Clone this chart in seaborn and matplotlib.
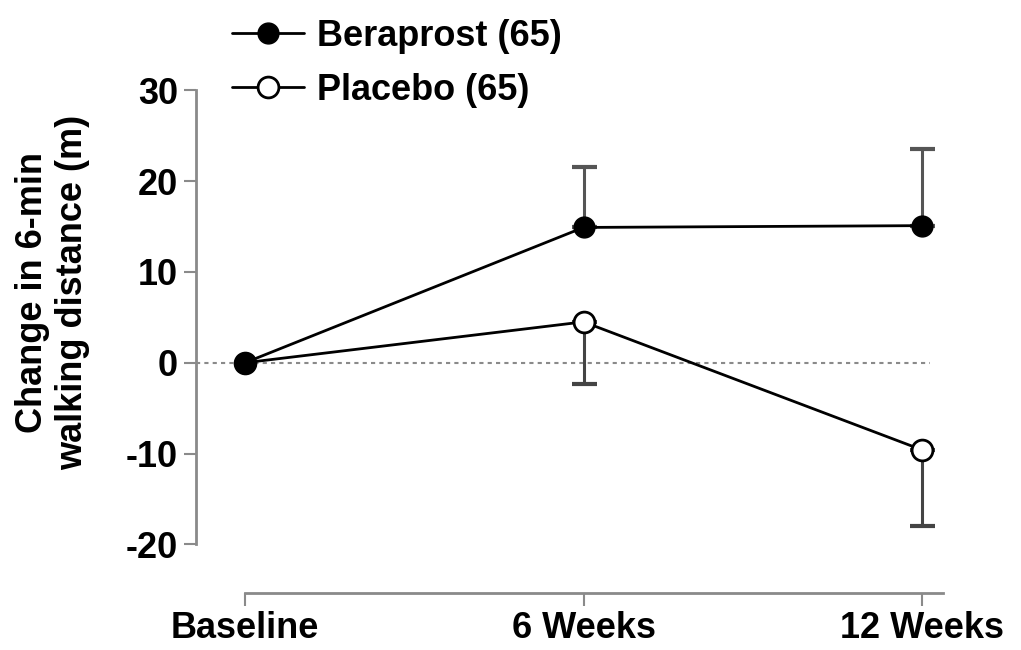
import numpy as np
import pandas as pd
import matplotlib
matplotlib.use("Agg")
import matplotlib.pyplot as plt
import seaborn as sns

timepoints = ["Baseline", "6 Weeks", "12 Weeks"]
beraprost = [0.0, 14.9, 15.1]
beraprost_err = [0.0, 6.7, 8.4]
placebo = [0.0, 4.5, -9.6]
placebo_err = [0.0, 6.8, 8.4]
yticks = [-20, -10, 0, 10, 20, 30]
labels = ["Beraprost (65)", "Placebo (65)"]
ylabel = "Change in 6-min\nwalking distance (m)"

sns.set_theme(style="ticks")
plt.rcParams["font.family"] = ["Liberation Sans", "DejaVu Sans"]
plt.rcParams["font.weight"] = "bold"
plt.rcParams["text.color"] = "black"
plt.rcParams["axes.labelcolor"] = "black"

W, H = 1021, 650
fig = plt.figure(figsize=(W / 100, H / 100), dpi=100)
x_left, x_right = 196, 943
y_top, y_bot = 85.8, 593
ax = fig.add_axes([x_left / W, 1 - y_bot / H, (x_right - x_left) / W, (y_bot - y_top) / H])

pos = np.arange(len(timepoints))
df_b = pd.DataFrame({"x": pos, "y": beraprost})
df_p = pd.DataFrame({"x": pos, "y": placebo})

grey = "#8a8a8a"
ax.axhline(0, xmin=0, xmax=(930 - x_left) / (x_right - x_left), color=grey,
           lw=1.5, ls=(0, (2, 2)), zorder=1)

# error bars (one-sided)
ax.errorbar(pos[1:], beraprost[1:], yerr=[np.zeros(2), beraprost_err[1:]],
            fmt="none", ecolor="#555555", elinewidth=2.2, capsize=9, capthick=3, zorder=2)
ax.errorbar(pos[1:], placebo[1:], yerr=[placebo_err[1:], np.zeros(2)],
            fmt="none", ecolor="#444444", elinewidth=2.2, capsize=9, capthick=3, zorder=2)

sns.lineplot(data=df_p, x="x", y="y", ax=ax, sort=False, color="black", lw=2,
             marker="o", markersize=15, markerfacecolor="white",
             markeredgecolor="black", markeredgewidth=2, label=labels[1], zorder=3)
sns.lineplot(data=df_b, x="x", y="y", ax=ax, sort=False, color="black", lw=2,
             marker="o", markersize=15, markerfacecolor="black",
             markeredgecolor="black", markeredgewidth=1, label=labels[0], zorder=4)

ax.set_xlim(-0.1448, 2.062)
ax.set_ylim(-25.36, 30.5)
ax.set_xticks(pos)
ax.set_xticklabels(timepoints, fontsize=26, fontweight="bold", color="black")
ax.set_yticks(yticks)
ax.set_yticklabels([str(v) for v in yticks], fontsize=26, fontweight="bold", color="black")
ax.set_xlabel("")
ax.set_ylabel(ylabel, fontsize=26, fontweight="bold", linespacing=1.2, color="black")
ax.yaxis.set_label_coords(-0.142, 0.593)

for s in ["top", "right"]:
    ax.spines[s].set_visible(False)
for s in ["left", "bottom"]:
    ax.spines[s].set_color(grey)
    ax.spines[s].set_linewidth(2)
ax.spines["left"].set_bounds(-20, 30)
ax.spines["bottom"].set_bounds(0, 2.062)
ax.tick_params(axis="both", colors=grey, labelcolor="black", length=9, width=1.5)
ax.tick_params(axis="y", pad=4)
ax.tick_params(axis="x", pad=4)

h, l = ax.get_legend_handles_labels()
order = [l.index(labels[0]), l.index(labels[1])]
leg = ax.legend([h[i] for i in order], [l[i] for i in order], loc="upper left",
                bbox_to_anchor=(232 / W, 1 - 19 / H), bbox_transform=fig.transFigure,
                frameon=False, prop={"weight": "bold", "size": 26},
                handlelength=2.0, handletextpad=0.35, labelspacing=0.52,
                borderpad=0, borderaxespad=0)
for t in leg.get_texts():
    t.set_color("black")

fig.savefig("out.png", dpi=100)
